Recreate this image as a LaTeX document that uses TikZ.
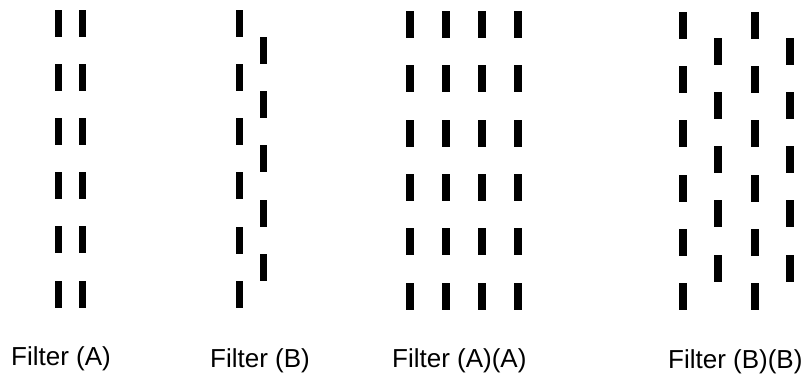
\documentclass[tikz,border=0pt]{standalone}
\usepackage{fontspec}
\setmainfont{Liberation Sans}

\tikzset{
  bar/.style={rectangle, fill=black, inner sep=0pt, minimum width=7pt, minimum height=27pt},
  widebar/.style={bar, minimum width=8pt},
  caption/.style={anchor=base west, inner sep=0pt, font=\fontsize{26}{30}\selectfont}
}

\begin{document}
\begin{tikzpicture}[x=1pt, y=-1pt]
    \useasboundingbox (0,0) rectangle (807,375);

    % Filter (A): two columns side by side
    \foreach \i in {0,...,5} {
        \node[bar] (a-1-\i) at (58, 23+54.2*\i) {};
        \node[bar] (a-2-\i) at (82, 23+54.2*\i) {};
    }

    % Filter (B): second column shifted by half a row
    \foreach \i in {0,...,5} {
        \node[bar] (b-1-\i) at (239, 23+54.3*\i) {};
    }
    \foreach \i in {0,...,4} {
        \node[bar] (b-2-\i) at (263, 50+54.4*\i) {};
    }

    % Filter (A)(A)
    \foreach \col/\x in {1/409.5, 2/446, 3/482, 4/518} {
        \foreach \i in {0,...,5} {
            \node[widebar] (aa-\col-\i) at (\x, 24.5+54.3*\i) {};
        }
    }

    % Filter (B)(B)
    \foreach \col/\x in {1/683, 3/755} {
        \foreach \i in {0,...,5} {
            \node[widebar] (bb-\col-\i) at (\x, 25.5+54.2*\i) {};
        }
    }
    \foreach \col/\x in {2/718, 4/790} {
        \foreach \i in {0,...,4} {
            \node[widebar] (bb-\col-\i) at (\x, 51+54.3*\i) {};
        }
    }

    % Captions
    \node[caption] (lblA) at (11, 365) {Filter (A)};
    \node[caption] (lblB) at (210, 367) {Filter (B)};
    \node[caption] (lblAA) at (392, 367) {Filter (A)(A)};
    \node[caption] (lblBB) at (668, 368) {Filter (B)(B)};
\end{tikzpicture}
\end{document}
